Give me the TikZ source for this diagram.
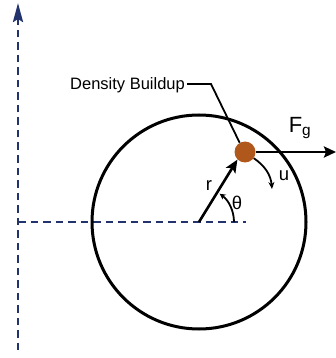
\documentclass[tikz,border=0pt]{standalone}
\usepackage{fontspec}
\setmainfont{Liberation Sans}
\usetikzlibrary{arrows.meta}
\definecolor{axisblue}{HTML}{22336E}
\definecolor{dotbrown}{HTML}{B0581C}
\tikzset{
  axis/.style={axisblue, line width=2.8pt, dash pattern=on 7.5pt off 5pt},
  blk/.style={black, line width=2.6pt},
  lbl/.style={font=\fontsize{16.5}{18}\selectfont, inner sep=0pt},
  big/.style={font=\fontsize{18.5}{20}\selectfont, inner sep=0pt},
}
\begin{document}
\begin{tikzpicture}[x=1pt,y=-1pt]
\useasboundingbox (0,0) rectangle (336,358);
% axes
\coordinate (ybot) at (18,350);
\coordinate (ytop) at (18,3);
\coordinate (xl) at (18,222);
\coordinate (xr) at (246,222);
\draw[axis] (ybot) -- (18,24);
\draw[axisblue, line width=2.8pt, -{Stealth[length=19pt,width=10pt,inset=3pt]}] (18,25) -- (ytop);
\draw[axis] (xl) -- (xr);
% circle
\coordinate (c) at (199,222);
\draw[blk, line width=3pt] (c) circle (107);
% dot
\node[circle, fill=dotbrown, minimum size=21pt, inner sep=0pt] (dot) at (245,152) {};
% r arrow
\draw[blk, -{Stealth[length=13pt,width=11pt,inset=3pt]}] (c) -- (dot.225);
% Fg
\coordinate (fgend) at (336,152);
\draw[blk, -{Stealth[length=12pt,width=11pt,inset=2pt]}] (dot.east) -- (fgend);
\node[big, font=\fontsize{22}{24}\selectfont] (fg) at (300,128) {F\textsubscript{g}};
% u
\coordinate (uend) at (272,189);
\draw[blk, line width=1.8pt, -{Stealth[length=7pt,width=6pt]}] (dot.-35) to[out=-35,in=95] (uend);
\node[big] (u) at (284,176) {u};
% r label, theta
\node[big] (r) at (209,186) {r};
\draw[blk, line width=1.8pt, -{Stealth[length=6pt,width=6pt]}] ([shift={(0:35)}]c) arc[start angle=0, end angle=-54, radius=35];
\node[big] (th) at (237,203) {θ};
% Density Buildup
\node[lbl, anchor=base west] (db) at (70,90) {Density Buildup};
\coordinate (bend) at (211,84);
\draw[black, line width=1.8pt] (db.east |- bend) ++(2,0) -- (bend) -- (dot.120);
\end{tikzpicture}
\end{document}
